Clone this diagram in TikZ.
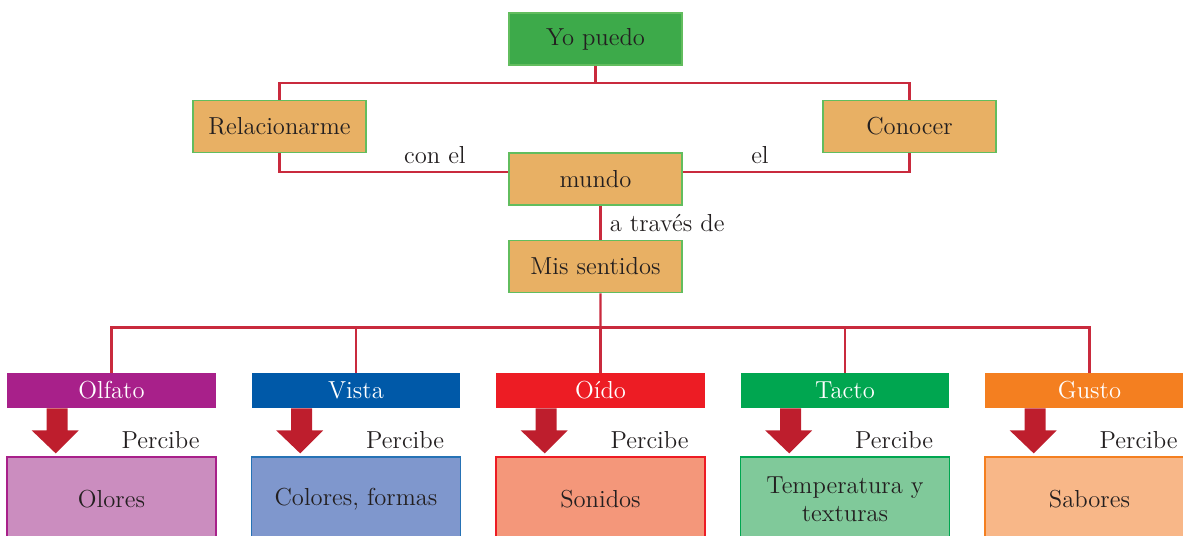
\documentclass[tikz,border=0pt]{standalone}
\usepackage{tikz}
\usetikzlibrary{calc, positioning}
\definecolor{linered}{HTML}{C92A3D}
\definecolor{arrowred}{HTML}{BE1E2D}
\definecolor{txtdark}{HTML}{231F20}
\definecolor{yogreen}{HTML}{3DAA4A}
\definecolor{edgegreen}{HTML}{62BD5E}
\definecolor{ideaorange}{HTML}{E8B064}
\definecolor{olfatoc}{HTML}{A8208A}
\definecolor{vistac}{HTML}{0059A8}
\definecolor{oidoc}{HTML}{ED1C24}
\definecolor{tactoc}{HTML}{00A650}
\definecolor{gustoc}{HTML}{F47F20}
\definecolor{oloresf}{HTML}{CB8DBF}
\definecolor{coloresf}{HTML}{7F97CD}
\definecolor{sonidosf}{HTML}{F4977A}
\definecolor{texturasf}{HTML}{80C99A}
\definecolor{saboresf}{HTML}{F8B788}
\newcommand{\percarrow}[2]{%
  \fill[arrowred] ($(#1.south west)+(40,0)$) -- ++(21,0) -- ++(0,22) -- ++(11,0)
    -- ($(#1.south west)+(49,45)$) -- ($(#1.south west)+(25,22)$) -- ++(15,0) -- cycle;
  \node[text=txtdark] (#2) at ($(#1.south west)+(154,32)$) {Percibe};}
\tikzset{
  ideabox/.style={draw=edgegreen, line width=1.1pt, fill=ideaorange, text=txtdark,
    minimum width=3.46cm, minimum height=1.04cm, inner sep=0pt},
  yobox/.style={ideabox, fill=yogreen},
  link/.style={draw=linered, line width=1.2pt},
  sensebar/.style={text=white, minimum width=4.18cm, minimum height=0.7cm, inner sep=0pt},
  percbox/.style={line width=1.1pt, text=txtdark, align=center,
    minimum width=4.18cm, minimum height=1.68cm, inner sep=0pt}
}

\begin{document}
\begin{tikzpicture}[x=0.02cm, y=-0.02cm, font=\fontsize{14}{16}\selectfont]
  \clip (0,0) rectangle (1183,536);
  \node[yobox] (yo) at (595.5,39) {Yo puedo};
  \node[ideabox] (relac) at (279.5,126.5) {Relacionarme};
  \node[ideabox] (conocer) at (909.5,126.5) {Conocer};
  \node[ideabox] (mundo) at (595.5,179) {mundo};
  \node[ideabox] (sentidos) at (595.5,266.5) {Mis sentidos};

  \coordinate (topjoin) at ($(yo.south)+(0,17)$);
  \draw[link] (yo.south) -- (topjoin);
  \draw[link] (topjoin) -| (relac.north);
  \draw[link] (topjoin) -| (conocer.north);
  \draw[link] (relac.south) |- ([yshift=0.14cm]mundo.west) node[pos=0.84, above=1pt, text=txtdark] {con el};
  \draw[link] ([yshift=0.14cm]mundo.east) -| (conocer.south) node[pos=0.17, above=1pt, text=txtdark] {el};
  \draw[link] ([xshift=0.1cm]mundo.south) -- ([xshift=0.1cm]sentidos.north) node[midway, right, xshift=0.05cm, text=txtdark] {a través de};

  \node[sensebar, fill=olfatoc] (olfato) at (111.5,390.5) {Olfato};
  \node[sensebar, fill=vistac] (vista) at (356,390.5) {Vista};
  \node[sensebar, fill=oidoc] (oido) at (600.5,390.5) {Oído};
  \node[sensebar, fill=tactoc] (tacto) at (845,390.5) {Tacto};
  \node[sensebar, fill=gustoc] (gusto) at (1089.5,390.5) {Gusto};

  \coordinate (botjoin) at ($(sentidos.south)+(5,34)$);
  \draw[link] ([xshift=0.1cm]sentidos.south) -- (botjoin);
  \draw[link] (olfato.north) |- (gusto.north |- botjoin) -- (gusto.north);
  \draw[link] (vista.north) -- (vista.north |- botjoin);
  \draw[link] (oido.north) -- (oido.north |- botjoin);
  \draw[link] (tacto.north) -- (tacto.north |- botjoin);

  \node[percbox, draw=olfatoc, fill=oloresf] (olores) at (111.5,499) {Olores};
  \node[percbox, draw=vistac!85, fill=coloresf] (colores) at (356,499) {Colores, formas};
  \node[percbox, draw=oidoc, fill=sonidosf] (sonidos) at (600.5,499) {Sonidos};
  \node[percbox, draw=tactoc, fill=texturasf] (texturas) at (845,499) {Temperatura y\\texturas};
  \node[percbox, draw=gustoc, fill=saboresf] (sabores) at (1089.5,499) {Sabores};

  \percarrow{olfato}{polfato}
  \percarrow{vista}{pvista}
  \percarrow{oido}{poido}
  \percarrow{tacto}{ptacto}
  \percarrow{gusto}{pgusto}
\end{tikzpicture}
\end{document}
